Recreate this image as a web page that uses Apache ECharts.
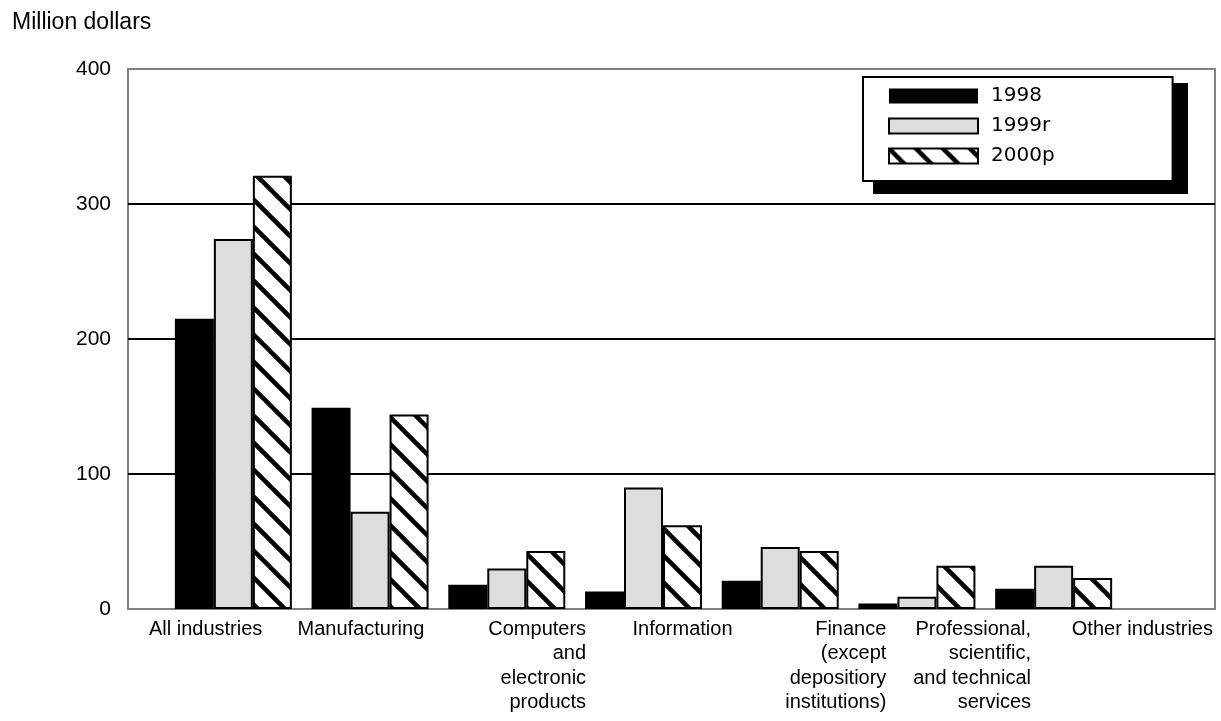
<!DOCTYPE html>
<html>
<head>
<meta charset="utf-8">
<script src="https://cdn.jsdelivr.net/npm/echarts@6/dist/echarts.min.js"></script>
<style>
    html, body { margin: 0; padding: 0; background: #fff; }
    #chart { width: 1221px; height: 721px; }
</style>
</head>
<body>
<div id="chart"></div>
<script>
// data
const categories = [
    'All industries',
    'Manufacturing',
    'Computers\nand\nelectronic\nproducts',
    'Information',
    'Finance\n(except\ndepositiory\ninstitutions)',
    'Professional,\nscientific,\nand technical\nservices',
    'Other industries',
];
const seriesNames = ['1998', '1999r', '2000p'];
const values1998 = [215, 149, 18, 13, 21, 4, 15];
const values1999r = [274, 72, 30, 90, 46, 9, 32];
const values2000p = [321, 144, 43, 62, 43, 32, 23];
const yMin = 0;
const yMax = 400;
const yStep = 100;

const font = 'Liberation Sans, Arial, sans-serif';

// hatch tile: "\" stripes, black on white
function makeHatch() {
    const s = 27;
    const c = document.createElement('canvas');
    c.width = s;
    c.height = s;
    const ctx = c.getContext('2d');
    ctx.fillStyle = '#fff';
    ctx.fillRect(0, 0, s, s);
    ctx.strokeStyle = '#000';
    ctx.lineWidth = 4.5;
    ctx.beginPath();
    for (let k = -1; k <= 1; k++) {
        ctx.moveTo(k * s - 2, -2);
        ctx.lineTo(k * s + s + 2, s + 2);
    }
    ctx.stroke();
    return c;
}
const hatch = { image: makeHatch(), repeat: 'repeat' };

// label lines right aligned inside the block, blocks nudged a little
const labelKeys = ['a', 'a', 'c', 'i', 'f', 'p', 'o'];
function labelFormatter(value, index) {
    const key = labelKeys[index];
    return value.split('\n').map(l => '{' + key + '|' + l + '}').join('\n');
}
const labelBase = { align: 'right', fontSize: 20, lineHeight: 24.5, fontFamily: font, color: '#000' };
function nudge(pad) {
    return Object.assign({}, labelBase, { padding: pad });
}

const chart = echarts.init(document.getElementById('chart'));

const option = {
    backgroundColor: '#fff',
    animation: false,
    title: {
        text: 'Million dollars',
        left: 7,
        top: 6,
        textStyle: { fontSize: 23, fontWeight: 'normal', fontFamily: font, color: '#000' },
    },
    // drop shadow behind the legend box
    graphic: [
        {
            type: 'rect',
            z: 1,
            shape: { x: 873, y: 83, width: 315, height: 111 },
            style: { fill: '#000' },
            silent: true,
        },
    ],
    legend: {
        data: seriesNames,
        orient: 'vertical',
        left: 863,
        top: 77,
        z: 10,
        padding: [9, 118, 15, 25],
        itemWidth: 89,
        itemHeight: 15,
        itemGap: 10,
        icon: 'rect',
        backgroundColor: '#fff',
        borderColor: '#000',
        borderWidth: 2,
        textStyle: { fontSize: 20, fontFamily: 'DejaVu Sans, sans-serif', color: '#000', padding: [0, 0, 0, 8] },
    },
    grid: [
        // frame, gridlines, labels
        { left: 128, right: 6, top: 69, bottom: 112, show: true, borderColor: '#808080', borderWidth: 2 },
        // bars
        { left: 165, right: 99, top: 69, bottom: 112 },
    ],
    xAxis: [
        {
            type: 'category',
            gridIndex: 0,
            data: categories,
            axisLine: { show: false },
            axisTick: { show: false },
            axisLabel: {
                interval: 0,
                margin: 8,
                formatter: labelFormatter,
                rich: {
                    a: labelBase,
                    c: nudge([0, 0, 0, 42]),
                    i: nudge([0, 0, 0, 22]),
                    f: nudge([0, 0, 0, 18]),
                    p: nudge([0, 20, 0, 0]),
                    o: nudge([0, 0, 0, 10]),
                },
            },
        },
        {
            type: 'category',
            gridIndex: 1,
            data: categories,
            show: false,
        },
    ],
    yAxis: [
        {
            type: 'value',
            gridIndex: 0,
            min: yMin,
            max: yMax,
            interval: yStep,
            axisLine: { show: false },
            axisTick: { show: false },
            axisLabel: { margin: 17, fontSize: 21, fontFamily: font, color: '#000' },
            splitLine: { show: true, showMinLine: false, showMaxLine: false, lineStyle: { color: '#000', width: 2 } },
        },
        {
            type: 'value',
            gridIndex: 1,
            min: yMin,
            max: yMax,
            interval: yStep,
            show: false,
            splitLine: { show: false },
        },
    ],
    series: [
        {
            name: seriesNames[0],
            type: 'bar',
            xAxisIndex: 1,
            yAxisIndex: 1,
            data: values1998,
            barWidth: 39,
            barGap: '0%',
            itemStyle: { color: '#000' },
        },
        {
            name: seriesNames[1],
            type: 'bar',
            xAxisIndex: 1,
            yAxisIndex: 1,
            data: values1999r,
            barWidth: 39,
            barGap: '0%',
            itemStyle: { color: '#dddddd', borderColor: '#000', borderWidth: 2 },
        },
        {
            name: seriesNames[2],
            type: 'bar',
            xAxisIndex: 1,
            yAxisIndex: 1,
            data: values2000p,
            barWidth: 39,
            barGap: '0%',
            itemStyle: { color: hatch, borderColor: '#000', borderWidth: 2 },
        },
    ],
};

chart.setOption(option);
</script>
</body>
</html>
